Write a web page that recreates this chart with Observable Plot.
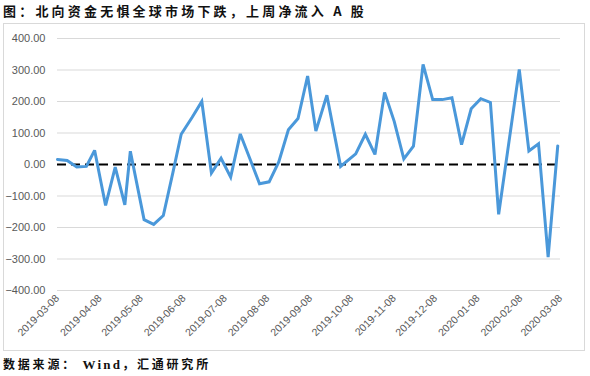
<!DOCTYPE html>
<html>
<head>
<meta charset="utf-8">
<script src="https://cdn.jsdelivr.net/npm/d3@7"></script>
<script src="https://cdn.jsdelivr.net/npm/@observablehq/plot@0.6"></script>
<style>
  body { margin: 0; background: #fff; width: 590px; height: 376px; overflow: hidden; }
  #title { font-family: "Noto Sans CJK SC", sans-serif; font-weight: bold; font-size: 13px; letter-spacing: 3.2px; color: #111; height: 23px; line-height: 21px; padding-left: 3px; white-space: nowrap; }
  #box { margin-left: 3px; width: 580px; height: 326px; border: 1px solid #d9d9d9; }
  #box svg { display: block; }
  #caption { font-family: "Noto Sans CJK SC", sans-serif; font-weight: bold; font-size: 12px; letter-spacing: 2.8px; color: #111; margin-top: 3px; line-height: 20px; padding-left: 3px; white-space: nowrap; }
  #caption .lat { font-family: "Liberation Serif", serif; font-size: 13px; letter-spacing: 2.2px; }
</style>
</head>
<body>
<div id="title">图：北向资金无惧全球市场下跌，上周净流入 A 股</div>
<div id="box"></div>
<div id="caption">数据来源： <span class="lat">Wind</span>，汇通研究所</div>
<script>
const dates = ["2019-03-08","2019-03-15","2019-03-22","2019-03-29","2019-04-04","2019-04-12","2019-04-19","2019-04-26","2019-04-30","2019-05-10","2019-05-17","2019-05-24","2019-05-31","2019-06-06","2019-06-14","2019-06-21","2019-06-28","2019-07-05","2019-07-12","2019-07-19","2019-07-26","2019-08-02","2019-08-09","2019-08-16","2019-08-23","2019-08-30","2019-09-06","2019-09-12","2019-09-20","2019-09-30","2019-10-11","2019-10-18","2019-10-25","2019-11-01","2019-11-08","2019-11-15","2019-11-22","2019-11-29","2019-12-06","2019-12-13","2019-12-20","2019-12-27","2020-01-03","2020-01-10","2020-01-17","2020-01-23","2020-02-07","2020-02-14","2020-02-21","2020-02-28","2020-03-06"];
const netInflow = [16,13,-8,-6,45,-130,-8,-128,42,-175,-190,-162,-25,96,150,200,-27,20,-40,97,18,-61,-55,8,110,146,281,106,220,-6,34,96,32,229,137,18,58,318,206,206,212,63,177,209,197,-158,302,43,66,-294,59];
const xTickLabels = ["2019-03-08","2019-04-08","2019-05-08","2019-06-08","2019-07-08","2019-08-08","2019-09-08","2019-10-08","2019-11-08","2019-12-08","2020-01-08","2020-02-08","2020-03-08"];
const yTicks = [-400,-300,-200,-100,0,100,200,300,400];

const parse = d3.utcParse("%Y-%m-%d");
const data = dates.map((d, i) => ({date: parse(d), value: netInflow[i]}));
const xTicks = xTickLabels.map(parse);
const fmt = d3.utcFormat("%Y-%m-%d");

const chart = Plot.plot({
  width: 580,
  height: 326,
  marginLeft: 53,
  marginRight: 24,
  marginTop: 14,
  marginBottom: 60,
  style: {fontFamily: "'Liberation Sans', Arial, sans-serif", color: "#595959", background: "#fff"},
  x: {type: "utc", domain: [parse("2019-03-08"), parse("2020-03-08")], ticks: xTicks, tickFormat: fmt, tickRotate: -45, tickSize: 0, tickPadding: 6, label: null},
  y: {domain: [-400, 400], ticks: yTicks, tickFormat: d3.format(".2f"), tickSize: 0, tickPadding: 12, label: null},
  marks: [
    Plot.ruleY(yTicks.filter(v => v !== 0), {stroke: "#d9d9d9", strokeWidth: 1}),
    Plot.ruleY([0], {stroke: "#000", strokeWidth: 2, strokeDasharray: "9,5"}),
    Plot.line(data, {x: "date", y: "value", stroke: "#4a98da", strokeWidth: 3, strokeLinejoin: "miter", strokeMiterlimit: 3}),
    Plot.axisY({ticks: yTicks, tickFormat: d3.format(".2f"), tickSize: 0, tickPadding: 12, fontSize: 11, label: null}),
    Plot.axisX({ticks: xTicks, tickFormat: fmt, tickRotate: -45, tickSize: 0, tickPadding: 6, fontSize: 10.5, label: null})
  ]
});
document.getElementById("box").appendChild(chart);
</script>
</body>
</html>
